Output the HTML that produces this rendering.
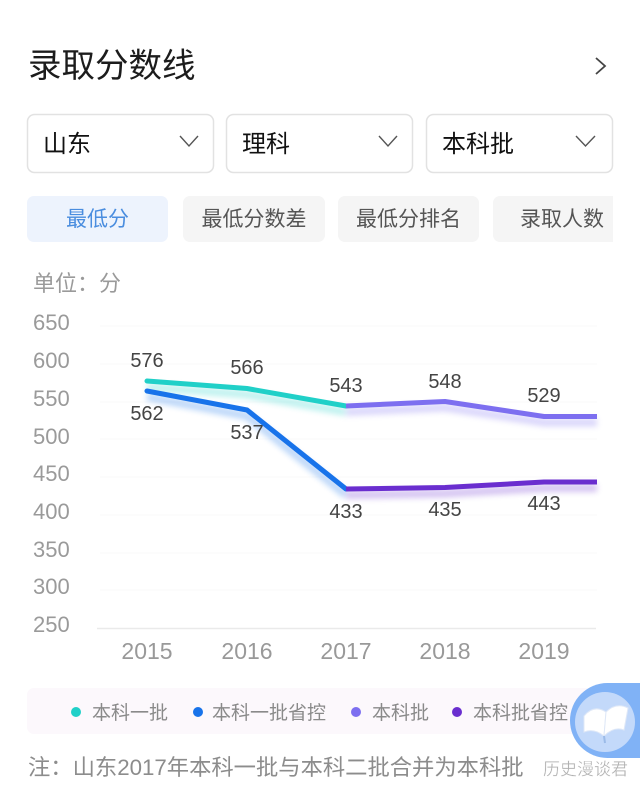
<!DOCTYPE html>
<html><head><meta charset="utf-8"><style>
html,body{margin:0;padding:0;background:#fff;}
svg{display:block;}
text{font-family:"Liberation Sans","Noto Sans CJK SC",sans-serif;}
</style></head><body>
<svg width="640" height="791" viewBox="0 0 640 791" xmlns="http://www.w3.org/2000/svg">
<defs>
<filter id="blur" x="-10%" y="-50%" width="120%" height="200%"><feGaussianBlur stdDeviation="3"/></filter>
<clipPath id="tabclip"><rect x="0" y="180" width="613" height="80"/></clipPath>
</defs>
<rect width="640" height="791" fill="#fff"/>
<!-- title -->
<text x="28" y="77" font-size="33.5" fill="#1c1c1c">录取分数线</text>
<polyline points="596,58 605,66 596,74" fill="none" stroke="#444" stroke-width="1.8"/>
<!-- dropdowns -->
<rect x="27.5" y="114.5" width="186" height="58" rx="7" fill="#fff" stroke="#e2e2e2" stroke-width="1.5"/>
<rect x="226.5" y="114.5" width="186" height="58" rx="7" fill="#fff" stroke="#e2e2e2" stroke-width="1.5"/>
<rect x="426.5" y="114.5" width="186" height="58" rx="7" fill="#fff" stroke="#e2e2e2" stroke-width="1.5"/>
<text x="43" y="152" font-size="24" fill="#111">山东</text>
<text x="242" y="152" font-size="24" fill="#111">理科</text>
<text x="442" y="152" font-size="24" fill="#111">本科批</text>
<polyline points="180,136 189,146 198,136" fill="none" stroke="#555" stroke-width="1.4"/>
<polyline points="379,136 388,146 397,136" fill="none" stroke="#555" stroke-width="1.4"/>
<polyline points="576,136 585.5,146 595,136" fill="none" stroke="#555" stroke-width="1.4"/>
<!-- tabs -->
<g clip-path="url(#tabclip)">
<rect x="27" y="196" width="141" height="46" rx="7" fill="#edf3fd"/>
<rect x="183" y="196" width="142" height="46" rx="7" fill="#f5f5f5"/>
<rect x="338" y="196" width="141" height="46" rx="7" fill="#f5f5f5"/>
<rect x="493" y="196" width="141" height="46" rx="7" fill="#f5f5f5"/>
</g>
<text x="97.5" y="226" font-size="21" fill="#4a8ddf" text-anchor="middle">最低分</text>
<text x="254" y="226" font-size="21" fill="#555" text-anchor="middle">最低分数差</text>
<text x="408.5" y="226" font-size="21" fill="#555" text-anchor="middle">最低分排名</text>
<text x="520" y="226" font-size="21" fill="#555">录取人数</text>
<!-- unit -->
<text x="33" y="291" font-size="22" fill="#9a9a9a">单位：分</text>
<!-- gridlines -->
<g stroke="#fafafa" stroke-width="1">
<line x1="100" y1="326" x2="597" y2="326"/>
<line x1="100" y1="364" x2="597" y2="364"/>
<line x1="100" y1="402" x2="597" y2="402"/>
<line x1="100" y1="439" x2="597" y2="439"/>
<line x1="100" y1="477" x2="597" y2="477"/>
<line x1="100" y1="515" x2="597" y2="515"/>
<line x1="100" y1="553" x2="597" y2="553"/>
<line x1="100" y1="590" x2="597" y2="590"/>
</g>
<line x1="97" y1="628.5" x2="596" y2="628.5" stroke="#eaeaea" stroke-width="1.5"/>
<!-- y labels -->
<g font-size="22" fill="#9a9a9a">
<text x="33" y="330">650</text>
<text x="33" y="368">600</text>
<text x="33" y="406">550</text>
<text x="33" y="444">500</text>
<text x="33" y="481">450</text>
<text x="33" y="519">400</text>
<text x="33" y="557">350</text>
<text x="33" y="594">300</text>
<text x="33" y="632">250</text>
</g>
<!-- x labels -->
<g font-size="23" fill="#999" text-anchor="middle">
<text x="147" y="659">2015</text>
<text x="247" y="659">2016</text>
<text x="346" y="659">2017</text>
<text x="445" y="659">2018</text>
<text x="544" y="659">2019</text>
</g>
<!-- glows -->
<g filter="url(#blur)" opacity="0.28" fill="none" stroke-width="8" transform="translate(0,6)">
<polyline points="147,381 247,388.5 346,406" stroke="#20d0c8"/>
<polyline points="147,391 247,410 346,489" stroke="#1873ea"/>
<polyline points="346,406 445,401.5 544,416.5 597,416.5" stroke="#7d6ff0"/>
<polyline points="346,489 445,487.5 544,482 597,482" stroke="#6a2ecf"/>
</g>
<!-- lines -->
<g fill="none" stroke-width="5" stroke-linejoin="round">
<polyline points="147,391 247,410 346,489" stroke="#1873ea" stroke-linecap="round"/>
<polyline points="147,381 247,388.5 346,406" stroke="#20d0c8" stroke-linecap="round"/>
<polyline points="346,406 445,401.5 544,416.5 597,416.5" stroke="#7d6ff0"/>
<polyline points="346,489 445,487.5 544,482 597,482" stroke="#6a2ecf"/>
</g>
<!-- data labels -->
<g font-size="20" fill="#444" text-anchor="middle">
<text x="147" y="367">576</text>
<text x="147" y="420">562</text>
<text x="247" y="374">566</text>
<text x="247" y="439">537</text>
<text x="346" y="392">543</text>
<text x="346" y="518">433</text>
<text x="445" y="388">548</text>
<text x="445" y="516">435</text>
<text x="544" y="402">529</text>
<text x="544" y="510">443</text>
</g>
<!-- legend -->
<rect x="27" y="688" width="590" height="46" rx="7" fill="#fcf8fc"/>
<circle cx="76" cy="712" r="5" fill="#20d0c8"/>
<circle cx="198" cy="712" r="5" fill="#1873ea"/>
<circle cx="356" cy="712" r="5" fill="#7d6ff0"/>
<circle cx="457" cy="712" r="5" fill="#6a2ecf"/>
<g font-size="19" fill="#8a8a8a">
<text x="92" y="719">本科一批</text>
<text x="212" y="719">本科一批省控</text>
<text x="372" y="719">本科批</text>
<text x="473" y="719">本科批省控</text>
</g>
<!-- float button -->
<path d="M607.5,683 L660,683 L660,758 L607.5,758 A37.5,37.5 0 0 1 607.5,683 Z" fill="#80b2f6"/>
<circle cx="605" cy="722" r="30" fill="#c3d9fa"/>
<g fill="#fff" stroke="#dfe8f7" stroke-width="1">
<path d="M584,716 Q594,704 606,712 L604,736 Q594,728 584,732 Z"/>
<path d="M606,712 Q616,702 628,708 L624,730 Q614,726 604,736 Z"/>
</g>
<path d="M604,736 L605,743" stroke="#9bbbe8" stroke-width="2"/>
<!-- note -->
<text x="28" y="775" font-size="22.3" fill="#8c8c8c">注：山东2017年本科一批与本科二批合并为本科批</text>
<text x="543" y="775" font-size="17" fill="#b0b0b0" stroke="#fff" stroke-width="0.3">历史漫谈君</text>
</svg>
</body></html>
